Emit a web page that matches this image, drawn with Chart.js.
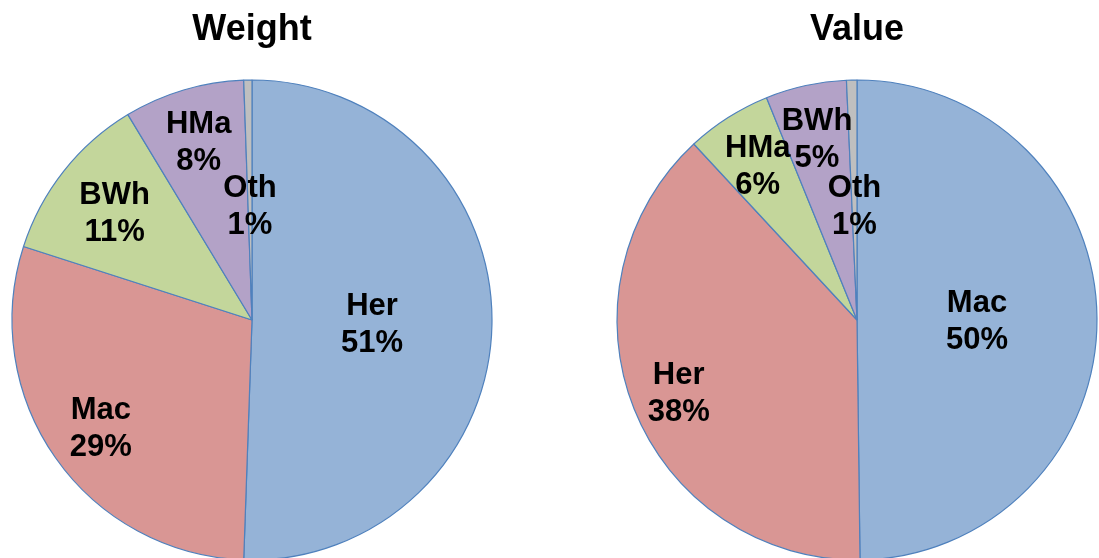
<!DOCTYPE html>
<html>
<head>
<meta charset="utf-8">
<script src="https://cdn.jsdelivr.net/npm/chart.js@4/dist/chart.umd.min.js"></script>
<style>
  html, body { margin: 0; padding: 0; background: #fff; width: 1099px; height: 558px; overflow: hidden; }
  .box { position: absolute; top: 0; width: 504px; height: 640px; }
  #weightBox { left: 0; }
  #valueBox { left: 605px; }
</style>
</head>
<body>
<div class="box" id="weightBox"><canvas id="weight"></canvas></div>
<div class="box" id="valueBox"><canvas id="value"></canvas></div>
<script>
// data
const weightLabels = ['Her', 'Mac', 'BWh', 'HMa', 'Oth'];
const weightValues = [50.55, 29.4, 11.4, 8.1, 0.55];

const valueLabels = ['Mac', 'Her', 'HMa', 'BWh', 'Oth'];
const valueValues = [49.8, 38.3, 5.75, 5.45, 0.7];

const sliceColors = ['#95b3d7', '#d99694', '#c3d69b', '#b3a2c7', '#bfbfbf'];

// title + "Name / nn%" labels drawn on the canvas
const pieText = {
  id: 'pieText',
  afterDraw(chart, args, opts) {
    const ctx = chart.ctx;
    const meta = chart.getDatasetMeta(0);
    const vals = chart.data.datasets[0].data;
    const total = vals.reduce((a, b) => a + b, 0);
    ctx.save();
    ctx.fillStyle = '#000';
    ctx.textAlign = 'center';

    ctx.font = 'bold 36px "Liberation Sans", Arial, sans-serif';
    ctx.textBaseline = 'alphabetic';
    ctx.fillText(opts.title, chart.width / 2, 40);

    ctx.font = 'bold 31px "Liberation Sans", Arial, sans-serif';
    ctx.textBaseline = 'middle';
    meta.data.forEach((arc, i) => {
      const mid = (arc.startAngle + arc.endAngle) / 2;
      const r = arc.outerRadius * opts.labelPos[i];
      const x = arc.x + Math.cos(mid) * r;
      const y = arc.y + Math.sin(mid) * r;
      const pct = Math.round(vals[i] / total * 100) + '%';
      ctx.fillText(chart.data.labels[i], x, y - 16);
      ctx.fillText(pct, x, y + 21);
    });
    ctx.restore();
  }
};

function makePie(id, title, labels, values, labelPos) {
  return new Chart(document.getElementById(id), {
    type: 'pie',
    data: {
      labels: labels,
      datasets: [{
        data: values,
        backgroundColor: sliceColors,
        borderColor: '#4f81bd',
        borderWidth: 1.2
      }]
    },
    options: {
      responsive: false,
      animation: false,
      radius: 240,
      layout: { padding: 0 },
      plugins: {
        legend: { display: false },
        tooltip: { enabled: false },
        pieText: { title: title, labelPos: labelPos }
      }
    },
    plugins: [pieText]
  });
}

['weight', 'value'].forEach(id => {
  const c = document.getElementById(id);
  c.width = 504;
  c.height = 640;
});

makePie('weight', 'Weight', weightLabels, weightValues, [0.5, 0.77, 0.73, 0.78, 0.48]);
makePie('value', 'Value', valueLabels, valueValues, [0.5, 0.8, 0.77, 0.78, 0.48]);
</script>
</body>
</html>
